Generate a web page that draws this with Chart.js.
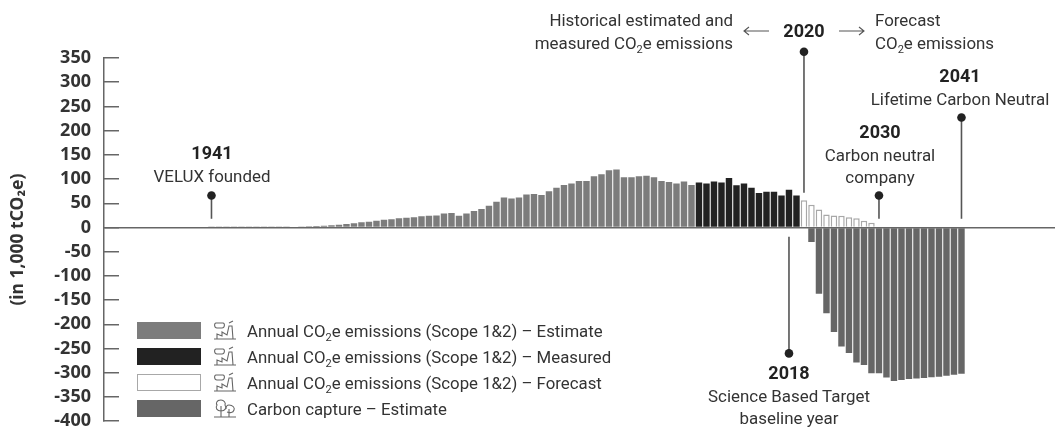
<!DOCTYPE html>
<html>
<head>
<meta charset="utf-8">
<script src="https://cdn.jsdelivr.net/npm/chart.js@4"></script>
<style>
  body { margin: 0; background: #fff; font-family: Roboto, sans-serif; color: #333; }
  #wrap { position: relative; width: 1055px; height: 428px; overflow: hidden; }
  canvas { position: absolute; left: 0; top: 0; }
  .t { position: absolute; font-size: 16.9px; line-height: 22.5px; white-space: nowrap; transform: translate(-50%, 0); text-align: center; }
  .t b { font-size: 18px; color: #222; }
  .t.l { transform: none; text-align: left; }
  .t.r { transform: translateX(-100%); text-align: right; }
  sub { font-size: 11px; line-height: 0; }
  .arrow { position: absolute; top: 26px; }
  .row { position: absolute; left: 137px; height: 17px; }
  .sw { position: absolute; left: 0; top: 0; width: 64px; height: 17px; box-sizing: border-box; }
  .row svg { position: absolute; left: 76px; top: -2px; }
  .row span { position: absolute; left: 110px; top: -2px; font-size: 16.8px; line-height: 22px; white-space: nowrap; }
</style>
</head>
<body>
<div id="wrap">
  <!-- taller than the page: the big tick padding reserves room under the axis, #wrap clips it -->
  <canvas id="co2Chart" width="1055" height="460"></canvas>

  <div class="t r" style="left:733px;top:9px">Historical estimated and<br>measured CO<sub>2</sub>e emissions</div>
  <div class="t" style="left:804px;top:20px"><b>2020</b></div>
  <svg class="arrow" style="left:743px" width="27" height="10"><path d="M26 5H1M6 1L1 5L6 9" fill="none" stroke="#555" stroke-width="1.1"/></svg>
  <svg class="arrow" style="left:838px" width="27" height="10"><path d="M1 5H26M21 1L26 5L21 9" fill="none" stroke="#555" stroke-width="1.1"/></svg>
  <div class="t l" style="left:875px;top:9px">Forecast<br>CO<sub>2</sub>e emissions</div>
  <div class="t" style="left:212px;top:142px"><b>1941</b><br>VELUX founded</div>
  <div class="t" style="left:960px;top:65px"><b>2041</b><br>Lifetime Carbon Neutral</div>
  <div class="t" style="left:880px;top:121px"><b>2030</b><br>Carbon neutral<br>company</div>
  <div class="t" style="left:789px;top:362px"><b>2018</b><br>Science Based Target<br>baseline year</div>

  <div id="legend"></div>
</div>

<script>
// values, in 1,000 tCO2e
const estimateYears = [1941,1942,1943,1944,1945,1946,1947,1948,1949,1950,1951,1952,1953,1954,1955,1956,1957,1958,1959,1960,
  1961,1962,1963,1964,1965,1966,1967,1968,1969,1970,1971,1972,1973,1974,1975,1976,1977,1978,1979,1980,
  1981,1982,1983,1984,1985,1986,1987,1988,1989,1990,1991,1992,1993,1994,1995,1996,1997,1998,1999,2000,
  2001,2002,2003,2004,2005];
const estimateValues = [0.5,0.5,0.5,0.5,0.5,0.5,0.5,0.5,0.6,0.7,1,1.5,2,2.5,3,3.5,4.5,5.5,7,9,
  11,12,14,16,17,19,20,21,23,24,25,29,30,24,29,34,38,45,53,62,
  60,62,68,69,67,75,82,88,91,96,96,106,110,118,120,104,104,106,107,104,
  96,94,91,95,88];
const measuredYears = [2006,2007,2008,2009,2010,2011,2012,2013,2014,2015,2016,2017,2018,2019];
const measuredValues = [93,91,95,93,102,87,91,82,71,74,74,66,78,66];
const forecastYears = [2020,2021,2022,2023,2024,2025,2026,2027,2028,2029];
const forecastValues = [56,47,37,27,25,24,21,19,14,10];
const captureYears = [2021,2022,2023,2024,2025,2026,2027,2028,2029,2030,2031,2032,2033,2034,2035,2036,2037,2038,2039,2040,2041];
const captureValues = [-30,-137,-177,-216,-246,-259,-279,-284,-301,-301,-310,-317,-315,-313,-312,-311,-309,-308,-306,-304,-302];

// [year, from value, to value] of the pin lines, the dot sits on "to"
const pins = [[1941,18,66],[2020,72,363],[2018,-19,-260],[2030,18,66],[2041,18,227]];

function points(years, values) {
  return years.map(function(y, i) { return {x: y, y: values[i]}; });
}

const legendLabels = [
  'Annual CO<sub>2</sub>e emissions (Scope 1&amp;2) – Estimate',
  'Annual CO<sub>2</sub>e emissions (Scope 1&amp;2) – Measured',
  'Annual CO<sub>2</sub>e emissions (Scope 1&amp;2) – Forecast',
  'Carbon capture – Estimate'
];

const pinPlugin = {
  id: 'pins',
  afterDraw: function(chart) {
    const ctx = chart.ctx, sx = chart.scales.x, sy = chart.scales.y;
    ctx.save();
    pins.forEach(function(p) {
      const x = sx.getPixelForValue(p[0]);
      ctx.strokeStyle = '#555';
      ctx.lineWidth = 1.6;
      ctx.beginPath();
      ctx.moveTo(x, sy.getPixelForValue(p[1]));
      ctx.lineTo(x, sy.getPixelForValue(p[2]));
      ctx.stroke();
      ctx.fillStyle = '#222';
      ctx.beginPath();
      ctx.arc(x, sy.getPixelForValue(p[2]), 4.3, 0, Math.PI * 2);
      ctx.fill();
    });
    ctx.restore();
  }
};

const chart = new Chart(document.getElementById('co2Chart'), {
  type: 'bar',
  data: {
    datasets: [
      {label: 'Estimate', data: points(estimateYears, estimateValues), backgroundColor: '#7c7c7c', borderColor: '#7c7c7c', borderWidth: 0},
      {label: 'Measured', data: points(measuredYears, measuredValues), backgroundColor: '#222222', borderColor: '#222222', borderWidth: 0},
      {label: 'Forecast', data: points(forecastYears, forecastValues), backgroundColor: '#ffffff', borderColor: '#a8a8a8', borderWidth: 1.5},
      {label: 'Capture', data: points(captureYears, captureValues), backgroundColor: '#666666', borderColor: '#666666', borderWidth: 0}
    ]
  },
  options: {
    responsive: false,
    maintainAspectRatio: false,
    animation: false,
    layout: {padding: {top: 58, bottom: 0, left: 0, right: 0}},
    datasets: {bar: {grouped: false, barPercentage: 0.86, categoryPercentage: 1}},
    plugins: {legend: {display: false}, tooltip: {enabled: false}},
    scales: {
      x: {type: 'linear', display: false, offset: false, min: 1926.67, max: 2053.47, grid: {display: false}},
      y: {
        min: -400,
        max: 350,
        afterFit: function(scale) { scale.width = 104; },
        border: {display: true, color: '#666', width: 1.5, z: 1},
        grid: {
          z: 1,
          tickLength: -15,
          tickColor: '#666',
          tickWidth: 1.5,
          lineWidth: 1.5,
          color: function(c) { return c.tick && c.tick.value === 0 ? '#666' : 'transparent'; }
        },
        ticks: {stepSize: 50, padding: 28, color: '#333', autoSkip: false, font: {family: 'Noto Sans', weight: 'bold', size: 18}},
        title: {display: true, text: '(in 1,000 tCO₂e)', color: '#333', padding: {top: 8, bottom: 0}, font: {family: 'Noto Sans', weight: 'bold', size: 17.5}}
      }
    }
  },
  plugins: [pinPlugin]
});

// legend built from the dataset colours
const factory = '<path d="M1 19H23M4 19V14L9 16V12L14 15L16 6H19L20 19M3 3H10C12 3 12 8 9 8H4C1 8 1 3 3 3ZM16 3L20 1" fill="none" stroke="#666" stroke-width="1.1"/>';
const trees = '<path d="M1 19H23M8 19V8M16 19V11M8 2C3 2 3 6 4 7C2 10 4 13 8 13C12 13 14 10 12 7C13 5 11 2 8 2ZM16 7C13 7 13 10 13 11M16 7C20 7 22 10 21 12C20 15 17 15 14 14" fill="none" stroke="#666" stroke-width="1.1"/>';
chart.data.datasets.forEach(function(d, i) {
  const row = document.createElement('div');
  row.className = 'row';
  row.style.top = (322 + i * 26) + 'px';
  const line = d.borderWidth ? '1.5px solid ' + d.borderColor : 'none';
  row.innerHTML = '<div class="sw" style="background:' + d.backgroundColor + ';border:' + line + '"></div>' +
    '<svg width="24" height="21">' + (i === 3 ? trees : factory) + '</svg>' +
    '<span>' + legendLabels[i] + '</span>';
  document.getElementById('legend').appendChild(row);
});
</script>
</body>
</html>
